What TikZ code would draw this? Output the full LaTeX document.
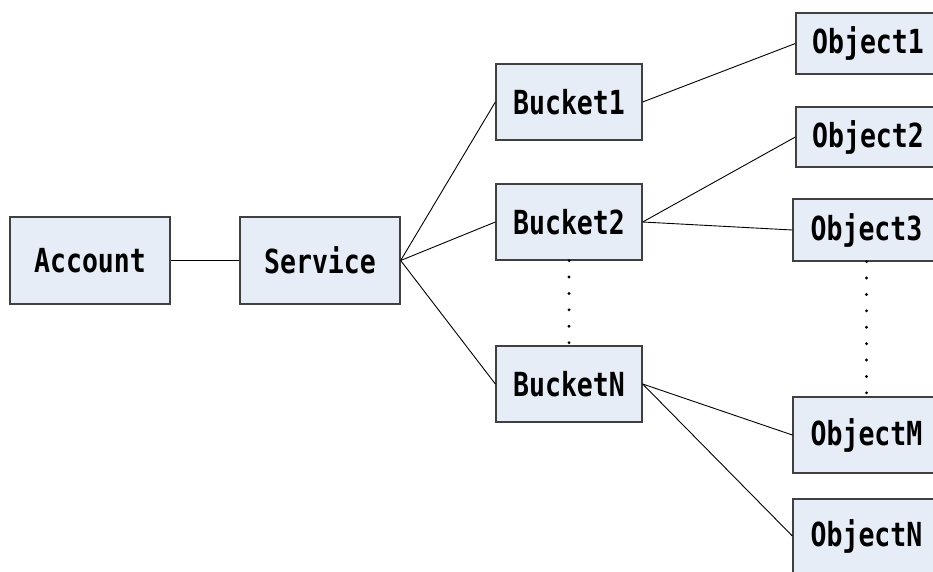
\documentclass[tikz,border=0pt]{standalone}
\usepackage{fontspec}
\usepackage{graphicx}
\newfontfamily\boxfont{DejaVu Sans Mono}
\definecolor{boxfill}{HTML}{E7EDF7}
\definecolor{boxline}{HTML}{404040}
\begin{document}
\begin{tikzpicture}[x=1pt,y=-1pt,
  box/.style={draw=boxline,line width=1.3pt,fill=boxfill,rectangle,inner sep=0pt,
    font=\boxfont\bfseries\fontsize{26.5}{30}\selectfont},
  link/.style={draw=black,line width=0.9pt},
  dotrow/.style={draw=black,line width=3.2pt,line cap=round,dash pattern=on 0pt off 16.4pt}]
\useasboundingbox (0,0) rectangle (933,572);
\newcommand{\tall}[1]{\scalebox{1}[1.25]{#1}}
% accounts and services
\node[box,minimum width=160,minimum height=87] (acc) at (90,260.5) {\tall{Account}};
\node[box,minimum width=160,minimum height=87] (svc) at (320,260.5) {\tall{Service}};
% buckets
\node[box,minimum width=146,minimum height=76] (b1) at (569,102) {\tall{Bucket1}};
\node[box,minimum width=146,minimum height=76] (b2) at (569,222) {\tall{Bucket2}};
\node[box,minimum width=146,minimum height=76] (bn) at (569,384) {\tall{BucketN}};
% objects
\node[box,minimum width=144,minimum height=61] (o1) at (868,43.5) {\tall{Object1}};
\node[box,minimum width=144,minimum height=60] (o2) at (868,137) {\tall{Object2}};
\node[box,minimum width=147,minimum height=62] (o3) at (866.5,230) {\tall{Object3}};
\node[box,minimum width=147,minimum height=76] (om) at (866.5,435) {\tall{ObjectM}};
\node[box,minimum width=147,minimum height=74] (on) at (866.5,536) {\tall{ObjectN}};
% connectors
\draw[link] (acc.east) -- (svc.west);
\draw[link] (svc.east) -- (b1.west);
\draw[link] (svc.east) -- (b2.west);
\draw[link] (svc.east) -- (bn.west);
\draw[link] (b1.east) -- (o1.west);
\draw[link] (b2.east) -- (o2.west);
\draw[link] (b2.east) -- (o3.west);
\draw[link] (bn.east) -- (om.west);
\draw[link] (bn.east) -- (on.west);
% elided entries
\draw[dotrow] (b2.south) -- (bn.north);
\draw[dotrow] (o3.south) -- (om.north);
\end{tikzpicture}
\end{document}
